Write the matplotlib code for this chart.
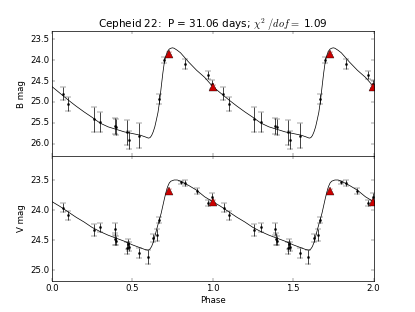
import numpy as np
import matplotlib
matplotlib.use("Agg")
import matplotlib.pyplot as plt

plt.style.use("classic")

# measured points (phase in [0, 1), repeated at +1 when plotted)
b_phase = [0.067, 0.10, 0.26, 0.30, 0.39, 0.40, 0.47, 0.48, 0.54, 0.669, 0.70, 0.83, 0.968, 0.998]
b_mag = [24.80, 25.05, 25.42, 25.49, 25.58, 25.60, 25.73, 25.91, 25.81, 24.93, 23.99, 24.08, 24.35, 24.58]
b_err = [0.15, 0.17, 0.30, 0.24, 0.20, 0.20, 0.30, 0.22, 0.30, 0.12, 0.07, 0.12, 0.10, 0.10]

v_phase = [0.07, 0.10, 0.26, 0.30, 0.39, 0.395, 0.40, 0.47, 0.475, 0.48, 0.54, 0.595,
           0.631, 0.656, 0.669, 0.80, 0.83, 0.90, 0.968, 0.998]
v_mag = [23.96, 24.09, 24.33, 24.29, 24.31, 24.48, 24.51, 24.63, 24.57, 24.61, 24.72, 24.78,
         24.47, 24.41, 24.16, 23.54, 23.55, 23.69, 23.89, 23.79]
v_err = [0.07, 0.08, 0.10, 0.07, 0.10, 0.10, 0.08, 0.10, 0.08, 0.07, 0.08, 0.12,
         0.07, 0.10, 0.05, 0.03, 0.05, 0.05, 0.05, 0.07]

# red triangles
tri_phase = [0.73, 0.999]
tri_b = [23.84, 24.63]
tri_b_err = [0.03, 0.03]
tri_v = [23.69, 23.86]
tri_v_err = [0.04, 0.03]

# template fit
fit_phase = [0.00, 0.05, 0.10, 0.15, 0.20, 0.25, 0.30, 0.35, 0.40, 0.45, 0.50, 0.55, 0.58,
             0.60, 0.61, 0.62, 0.63, 0.64, 0.65, 0.66, 0.67, 0.68, 0.69, 0.70, 0.71, 0.72,
             0.73, 0.74, 0.75, 0.76, 0.78, 0.80, 0.85, 0.90, 0.95, 1.00]
fit_b = [24.63, 24.79, 24.95, 25.10, 25.24, 25.37, 25.51, 25.60, 25.66, 25.72, 25.76, 25.80, 25.84,
         25.87, 25.86, 25.81, 25.72, 25.60, 25.43, 25.25, 24.98, 24.64, 24.31, 24.03, 23.88, 23.78,
         23.73, 23.71, 23.70, 23.71, 23.76, 23.82, 24.04, 24.24, 24.41, 24.63]
fit_v = [23.86, 23.94, 24.03, 24.12, 24.20, 24.29, 24.36, 24.42, 24.47, 24.52, 24.58, 24.63, 24.66,
         24.67, 24.65, 24.61, 24.54, 24.44, 24.34, 24.24, 24.15, 24.05, 23.93, 23.81, 23.70, 23.61,
         23.55, 23.52, 23.51, 23.50, 23.50, 23.52, 23.59, 23.67, 23.78, 23.86]


def two_cycles(x, y):
    x = np.asarray(x)
    return np.concatenate([x, x + 1]), np.concatenate([y, y])


fig = plt.figure(figsize=(8, 6.015), dpi=51.875, facecolor="white")
fig.subplots_adjust(hspace=0)
ax1 = fig.add_subplot(211)
ax2 = fig.add_subplot(212, sharex=ax1)

panels = [
    (ax1, b_phase, b_mag, b_err, tri_b, tri_b_err, fit_b, "B mag", (26.3, 23.3), [23.5, 24.0, 24.5, 25.0, 25.5, 26.0]),
    (ax2, v_phase, v_mag, v_err, tri_v, tri_v_err, fit_v, "V mag", (25.18, 23.1), [23.5, 24.0, 24.5, 25.0]),
]

for ax, ph, mag, err, tmag, terr, fit, lab, ylim, yt in panels:
    x, y = two_cycles(ph, mag)
    _, e = two_cycles(ph, err)
    ax.errorbar(x, y, yerr=e, fmt="k.", ecolor="k", capsize=4, ms=6)
    fx, fy = two_cycles(fit_phase, fit)
    ax.plot(fx, fy, "k-", lw=1)
    tx, ty = two_cycles(tri_phase, tmag)
    _, te = two_cycles(tri_phase, terr)
    ax.errorbar(tx, ty, yerr=te, fmt="^", color="#cc0000", ecolor="#cc0000",
                mec="k", mew=0.5, ms=10, capsize=4)
    ax.set_ylim(*ylim)
    ax.set_yticks(yt)
    ax.set_ylabel(lab)

ax1.set_xlim(0, 2)
ax1.set_xticks([0.0, 0.5, 1.0, 1.5, 2.0])
plt.setp(ax1.get_xticklabels(), visible=False)
ax2.set_xlabel("Phase")
ax1.set_title(r"Cepheid 22:  P = 31.06 days; $\chi^2\ /dof = $ 1.09")

fig.savefig("out.png", dpi=51.875, facecolor="white")
